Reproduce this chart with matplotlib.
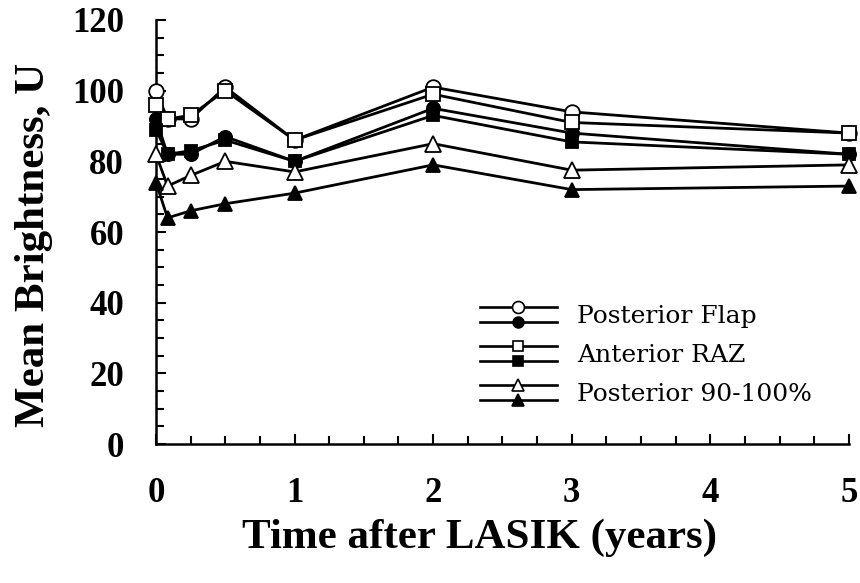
import matplotlib
matplotlib.use('Agg')
import matplotlib.pyplot as plt
from matplotlib.lines import Line2D
from matplotlib.legend_handler import HandlerBase
from matplotlib.ticker import MultipleLocator

# time after LASIK in years (0, 1 mo, 3 mo, 6 mo, 1, 2, 3, 5 yr)
years = [0, 1 / 12, 0.25, 0.5, 1, 2, 3, 5]
post_flap_open = [100, 92, 92, 101, 86, 101, 94, 88]
post_flap_filled = [92, 82, 82, 87, 80, 95, 88, 82]
ant_raz_open = [96, 92, 93, 100, 86, 99, 91, 88]
ant_raz_filled = [89, 82, 83, 86, 80, 93, 85.5, 82]
post90_open = [82, 73, 76, 80, 77, 85, 77.5, 79]
post90_filled = [74, 64, 66, 68, 71, 79, 72, 73]
labels = ['Posterior Flap', 'Anterior RAZ', 'Posterior 90-100%']

bold_font = ['Liberation Serif']
leg_font = ['DejaVu Serif']
lw = 2.0


class PairHandler(HandlerBase):
    # two stacked lines: open marker on top, filled one below
    def create_artists(self, legend, orig_handle, xdescent, ydescent,
                       width, height, fontsize, trans):
        arts = []
        mid = height / 2 - ydescent
        off = fontsize * 0.3
        for h, yy in zip(orig_handle, (mid + off, mid - off)):
            ln = Line2D([-xdescent, width - xdescent], [yy, yy],
                        color='black', lw=1.9, transform=trans)
            mk = Line2D([width / 2 - xdescent], [yy], ls='none',
                        marker=h.get_marker(), ms=h.get_markersize() * 0.82,
                        mfc=h.get_markerfacecolor(), mec='black', mew=1.2,
                        transform=trans)
            arts += [ln, mk]
        return arts


fig = plt.figure(figsize=(8.6, 5.83), dpi=100)
ax = fig.add_axes([0.1814, 0.2384, 0.8056, 0.7273])

series = [
    (post_flap_open, 'o', 'white', 10.5),
    (post_flap_filled, 'o', 'black', 9.5),
    (ant_raz_open, 's', 'white', 9.5),
    (ant_raz_filled, 's', 'black', 9),
    (post90_open, '^', 'white', 11),
    (post90_filled, '^', 'black', 10),
]
handles = []
for vals, m, fc, ms in series:
    h, = ax.plot(years, vals, color='black', lw=lw, marker=m, ms=ms,
                 mfc=fc, mec='black', mew=1.3, clip_on=False, zorder=3)
    handles.append(h)

pairs = [(handles[0], handles[1]), (handles[2], handles[3]), (handles[4], handles[5])]
ax.legend(pairs, labels, handler_map={tuple: PairHandler()},
          loc='upper left', bbox_to_anchor=(0.4675, 0.332), frameon=False,
          prop={'family': leg_font, 'size': 18}, handlelength=3.08,
          handleheight=1.0, labelspacing=0.57, handletextpad=0.8,
          borderpad=0, borderaxespad=0)

ax.set_xlim(0, 5)
ax.set_ylim(0, 120)
ax.xaxis.set_major_locator(MultipleLocator(1))
ax.xaxis.set_minor_locator(MultipleLocator(0.25))
ax.yaxis.set_major_locator(MultipleLocator(20))
ax.yaxis.set_minor_locator(MultipleLocator(5))
ax.tick_params(which='both', direction='in', width=1.5, top=False, right=False)
ax.tick_params(which='major', length=7.5)
ax.tick_params(which='minor', length=5.5)
ax.tick_params(axis='x', pad=24)
ax.tick_params(axis='y', pad=23)
for lab in ax.get_xticklabels() + ax.get_yticklabels():
    lab.set_family(bold_font)
    lab.set_fontweight('bold')
    lab.set_fontsize(25)

for s in ['top', 'right']:
    ax.spines[s].set_visible(False)
for s in ['left', 'bottom']:
    ax.spines[s].set_linewidth(1.8)

ax.set_xlabel('Time after LASIK (years)', family=bold_font, fontweight='bold',
              fontsize=31, labelpad=6)
ax.set_ylabel('Mean Brightness, U', family=bold_font, fontweight='bold',
              fontsize=31, labelpad=14)
ax.xaxis.label.set_x(0.4675)
ax.yaxis.label.set_y(0.469)

fig.savefig('out.png', dpi=100)
